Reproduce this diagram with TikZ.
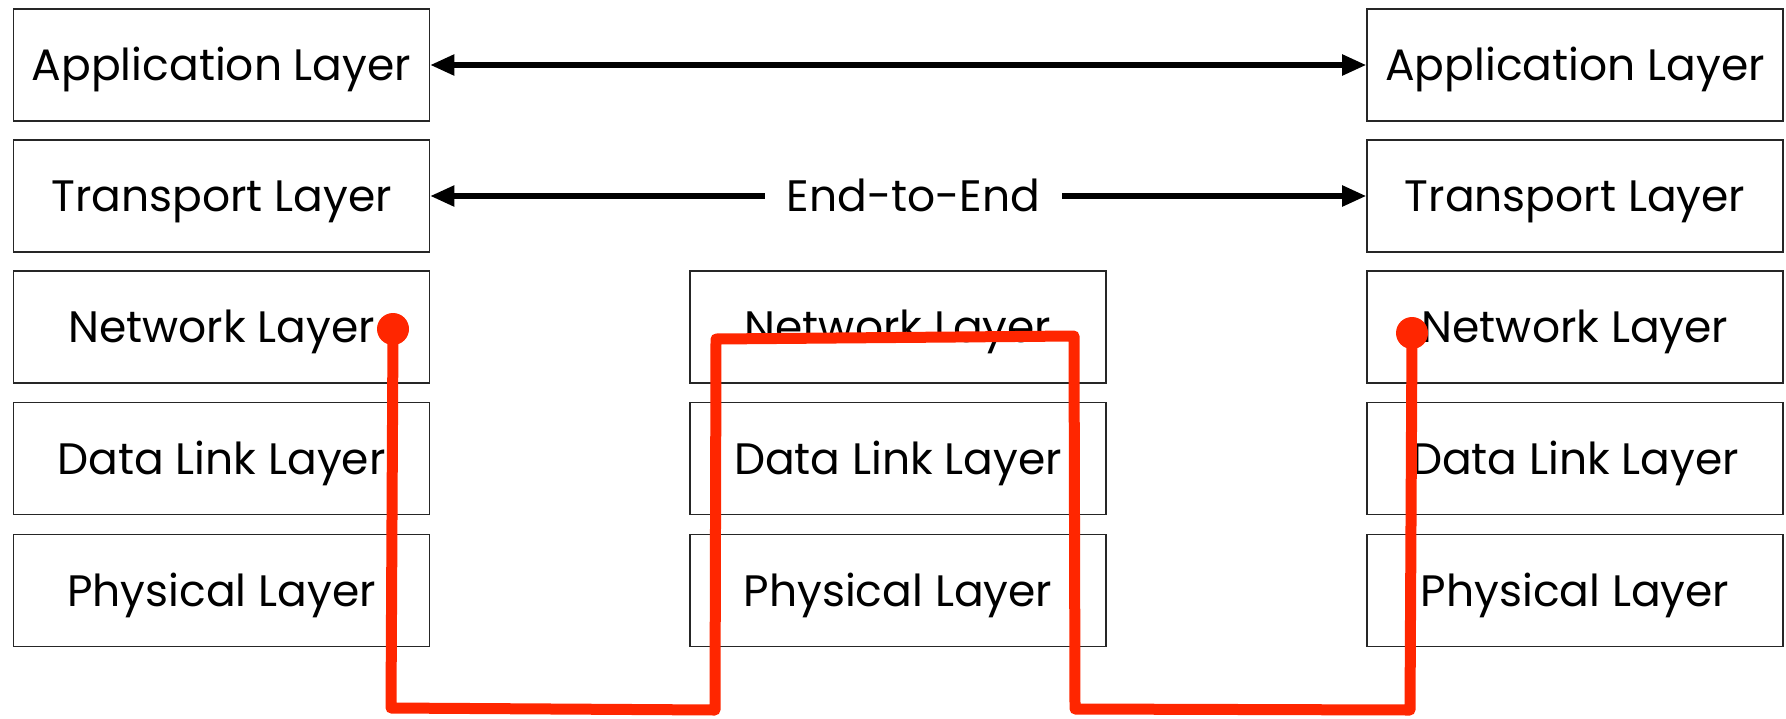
\documentclass[tikz,border=0pt]{standalone}
\usepackage{fontspec}
\setmainfont{Poppins}
\usetikzlibrary{arrows.meta}
\definecolor{routered}{RGB}{255,38,0}
\begin{document}
\begin{tikzpicture}[x=0.5pt,y=-0.5pt,
  layertext/.style={inner sep=0pt, text height=15.5pt, text depth=0pt, font=\fontsize{22}{26}\selectfont},
  layerbox/.style={layertext, draw=black!85, line width=0.8pt, minimum width=208pt, minimum height=56pt},
  tip/.tip={Triangle[length=12pt,width=10pt]},
  biarrow/.style={line width=2.6pt, -tip},
  route/.style={draw=routered, line width=5.5pt, line join=round, line cap=round},
  endpoint/.style={fill=routered}
]
\useasboundingbox (0,0) rectangle (1786,718);

% left stack
\node[layerbox] (LA) at (221.5,65) {Application Layer};
\node[layerbox] (LT) at (221.5,196) {Transport Layer};
\node[layerbox] (LN) at (221.5,327) {Network Layer};
\node[layerbox] (LD) at (221.5,458.5) {Data Link Layer};
\node[layerbox] (LP) at (221.5,590.5) {Physical Layer};

% middle stack
\node[layerbox] (MN) at (898,327) {Network Layer};
\node[layerbox] (MD) at (898,458.5) {Data Link Layer};
\node[layerbox] (MP) at (898,590.5) {Physical Layer};

% right stack
\node[layerbox] (RA) at (1575,65) {Application Layer};
\node[layerbox] (RT) at (1575,196) {Transport Layer};
\node[layerbox] (RN) at (1575,327) {Network Layer};
\node[layerbox] (RD) at (1575,458.5) {Data Link Layer};
\node[layerbox] (RP) at (1575,590.5) {Physical Layer};

% arrows
\draw[biarrow, tip-tip] (LA.east) -- (RA.west);
\node[layertext, minimum width=148.5pt] (E2E) at (913.5,196) {End-to-End};
\draw[biarrow] (E2E.west) -- (LT.east);
\draw[biarrow] (E2E.east) -- (RT.west);

% red route
\coordinate (s) at (393,329);
\coordinate (a) at (391,708);
\coordinate (b) at (715,710);
\coordinate (c) at (716,339);
\coordinate (d) at (1074,336);
\coordinate (e) at (1075,709);
\coordinate (f) at (1410,710);
\coordinate (t) at (1412,333);
\draw[route] (s) -- (a) -- (b) -- (c) -- (d) -- (e) -- (f) -- (t);
\fill[endpoint] (s) circle (8pt);
\fill[endpoint] (t) circle (8pt);
\end{tikzpicture}
\end{document}
